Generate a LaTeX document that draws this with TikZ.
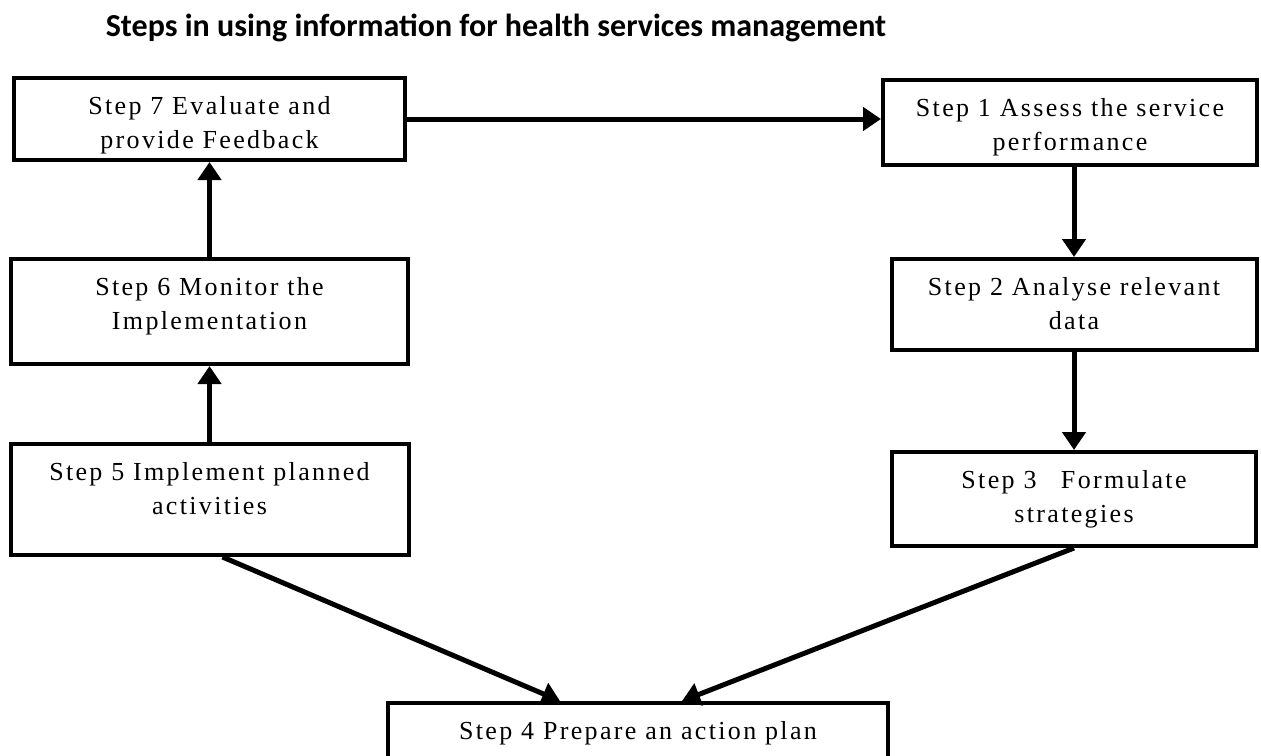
\documentclass[tikz,border=0pt]{standalone}
\usepackage{fontspec}
\setmainfont{Liberation Serif}[LetterSpace=9]
\newfontfamily\headfont{Carlito}
\usetikzlibrary{arrows.meta,positioning}

\begin{document}
\begin{tikzpicture}[
    x=0.5pt, y=-0.5pt,
    stepbox/.style={rectangle, draw, line width=2pt, inner sep=0pt},
    steptext/.style={anchor=north, yshift=-10pt, inner sep=0pt, align=center, font=\fontsize{13}{17}\selectfont},
    heading/.style={font=\headfont\bfseries\fontsize{16}{19}\selectfont},
    arrow/.style={-{Triangle[length=9pt, width=11.5pt]}, line width=2.5pt}
]
\useasboundingbox (0,0) rectangle (1261,755);

% Title
\node[heading] (title) at (496,28) {Steps in using information for health services management};

% Left column
\node[stepbox, minimum width=195.5pt, minimum height=41pt,
    label={[steptext, name=t7]north:{Step 7 Evaluate and\\provide Feedback}}] (s7) at (209.5,119) {};
\node[stepbox, minimum width=198.5pt, minimum height=52.5pt, below=47.5pt of s7,
    label={[steptext, name=t6]north:{Step 6 Monitor the\\Implementation}}] (s6) {};
\node[stepbox, minimum width=199pt, minimum height=55.5pt, below=38pt of s6,
    label={[steptext, name=t5]north:{Step 5 Implement planned\\activities}}] (s5) {};

% Right column
\node[stepbox, minimum width=187pt, minimum height=42.5pt,
    label={[steptext, name=t1]north:{Step 1 Assess the service\\performance}}] (s1) at (1070,122.5) {};
\node[stepbox, minimum width=182.5pt, minimum height=45.5pt, below=45pt of s1, xshift=2pt,
    label={[steptext, name=t2]north:{Step 2 Analyse relevant\\data}}] (s2) {};
\node[stepbox, minimum width=182pt, minimum height=47pt, below=49pt of s2,
    label={[steptext, name=t3]north:{Step 3\hspace{0.6em} Formulate\\strategies}}] (s3) {};

% Bottom
\node[stepbox, minimum width=250pt, minimum height=29pt,
    label={[steptext, name=t4]north:Step 4 Prepare an action plan}] (s4) at (638,732) {};

% Arrows
\draw[arrow] (s7.east) -- (s7.east -| s1.west);
\draw[arrow] (s2.north |- s1.south) -- (s2.north);
\draw[arrow] (s2.south) -- (s3.north);
\draw[arrow] (s3.south) -- ([xshift=22pt]s4.north);
\draw[arrow] ([xshift=6.5pt]s5.south) -- ([xshift=-39pt]s4.north);
\draw[arrow] (s5.north) -- (s6.south);
\draw[arrow] (s6.north) -- (s7.south);

\end{tikzpicture}
\end{document}
